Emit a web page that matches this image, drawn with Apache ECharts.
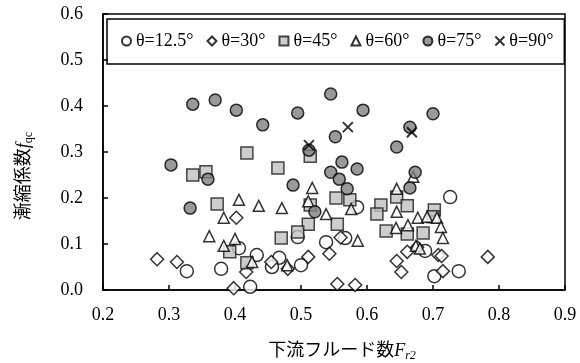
<!DOCTYPE html>
<html>
<head>
<meta charset="utf-8">
<script src="https://cdn.jsdelivr.net/npm/echarts@6/dist/echarts.min.js"></script>
<style>
  html, body { margin: 0; padding: 0; background: #fff; }
  #chart { width: 580px; height: 363px; }
</style>
</head>
<body>
<div id="chart"></div>
<script>
// [Fr2, fqc]
const legendNames = ["θ=12.5°", "θ=30°", "θ=45°", "θ=60°", "θ=75°", "θ=90°"];

const theta125 = [
  [0.327, 0.041], [0.379, 0.046], [0.406, 0.091], [0.433, 0.076], [0.423, 0.007],
  [0.467, 0.070], [0.456, 0.050], [0.500, 0.054], [0.495, 0.115], [0.538, 0.104],
  [0.567, 0.113], [0.585, 0.180], [0.726, 0.202], [0.688, 0.085], [0.702, 0.030],
  [0.739, 0.041]
];
const theta30 = [
  [0.282, 0.067], [0.312, 0.061], [0.402, 0.157], [0.398, 0.004], [0.417, 0.039],
  [0.455, 0.061], [0.480, 0.046], [0.511, 0.072], [0.543, 0.079], [0.560, 0.114],
  [0.555, 0.013], [0.582, 0.011], [0.645, 0.063], [0.652, 0.039], [0.661, 0.083],
  [0.676, 0.093], [0.708, 0.076], [0.713, 0.074], [0.715, 0.041], [0.783, 0.072]
];
const theta45 = [
  [0.418, 0.298], [0.336, 0.250], [0.356, 0.257], [0.465, 0.265], [0.514, 0.291],
  [0.373, 0.187], [0.514, 0.185], [0.511, 0.143], [0.495, 0.126], [0.470, 0.113],
  [0.392, 0.083], [0.418, 0.059], [0.553, 0.200], [0.574, 0.196], [0.555, 0.143],
  [0.621, 0.185], [0.615, 0.165], [0.645, 0.202], [0.661, 0.183], [0.629, 0.128],
  [0.661, 0.122], [0.685, 0.124], [0.702, 0.174], [0.700, 0.159]
];
const theta60 = [
  [0.517, 0.222], [0.406, 0.196], [0.436, 0.183], [0.471, 0.178], [0.383, 0.157],
  [0.511, 0.193], [0.361, 0.117], [0.400, 0.111], [0.383, 0.096], [0.426, 0.061],
  [0.479, 0.054], [0.538, 0.165], [0.576, 0.176], [0.586, 0.107], [0.645, 0.220],
  [0.645, 0.170], [0.644, 0.135], [0.662, 0.141], [0.677, 0.157], [0.691, 0.159],
  [0.706, 0.157], [0.712, 0.137], [0.715, 0.113], [0.674, 0.096], [0.680, 0.090],
  [0.670, 0.246]
];
const theta75 = [
  [0.336, 0.404], [0.370, 0.413], [0.402, 0.391], [0.442, 0.359], [0.495, 0.385],
  [0.512, 0.304], [0.303, 0.272], [0.359, 0.241], [0.488, 0.228], [0.332, 0.178],
  [0.545, 0.426], [0.594, 0.391], [0.552, 0.333], [0.665, 0.354], [0.700, 0.383],
  [0.645, 0.311], [0.562, 0.278], [0.585, 0.263], [0.545, 0.256], [0.558, 0.241],
  [0.570, 0.220], [0.673, 0.256], [0.665, 0.222], [0.521, 0.170]
];
const theta90 = [
  [0.512, 0.315], [0.571, 0.354], [0.668, 0.343]
];

const serif = '"Liberation Serif", "Times New Roman", "Noto Sans CJK JP", serif';
const crossPath = "path://M0,0L10,10M10,0L0,10";

const chart = echarts.init(document.getElementById("chart"), null, { renderer: "canvas" });

const option = {
  backgroundColor: "#fff",
  animation: false,
  textStyle: { fontFamily: serif, color: "#000" },
  grid: {
    left: 103,
    right: 15,
    top: 14,
    bottom: 73,
    outerBoundsMode: "none",
    show: true,
    borderColor: "#000",
    borderWidth: 1.5,
  },
  legend: {
    data: legendNames,
    left: 107,
    top: 19,
    padding: [13, 11, 14, 14],
    itemGap: 13,
    itemWidth: 9,
    itemHeight: 9,
    borderColor: "#000",
    borderWidth: 1.5,
    textStyle: { fontFamily: serif, fontSize: 18, color: "#000" },
  },
  xAxis: {
    type: "value",
    min: 0.2,
    max: 0.9,
    interval: 0.1,
    name: "下流フルード数{i|F}{s|r2}",
    nameLocation: "middle",
    nameGap: 50,
    nameTextStyle: {
      fontFamily: serif,
      fontSize: 18,
      color: "#000",
      padding: [0, 0, 0, 16],
      rich: {
        i: { fontFamily: serif, fontSize: 18, fontStyle: "italic", lineHeight: 22 },
        s: { fontFamily: serif, fontSize: 12, fontStyle: "italic", lineHeight: 11, verticalAlign: "bottom" },
      },
    },
    axisLine: { lineStyle: { color: "#000", width: 1.5 } },
    axisTick: { inside: true, length: 5, lineStyle: { color: "#000", width: 1.5 } },
    axisLabel: {
      fontFamily: serif,
      fontSize: 18,
      color: "#000",
      margin: 16,
      formatter: (v) => v.toFixed(1),
    },
    splitLine: { show: false },
  },
  yAxis: {
    type: "value",
    min: 0,
    max: 0.6,
    interval: 0.1,
    name: "漸縮係数{i|f}{s|qc}",
    nameLocation: "middle",
    nameGap: 68,
    nameTextStyle: {
      fontFamily: serif,
      fontSize: 18,
      color: "#000",
      padding: [0, 48, 0, 0],
      rich: {
        i: { fontFamily: serif, fontSize: 18, fontStyle: "italic", lineHeight: 22 },
        s: { fontFamily: serif, fontSize: 12, lineHeight: 11, verticalAlign: "bottom" },
      },
    },
    axisLine: { lineStyle: { color: "#000", width: 1.5 } },
    axisTick: { inside: true, length: 5, lineStyle: { color: "#000", width: 1.5 } },
    axisLabel: {
      fontFamily: serif,
      fontSize: 18,
      color: "#000",
      margin: 20,
      formatter: (v) => v.toFixed(1),
    },
    splitLine: { show: false },
  },
  series: [
    {
      name: legendNames[0],
      type: "scatter",
      data: theta125,
      symbol: "circle",
      symbolSize: 13,
      itemStyle: { color: "#fff", borderColor: "#000", borderWidth: 1.5 },
    },
    {
      name: legendNames[1],
      type: "scatter",
      data: theta30,
      symbol: "diamond",
      symbolSize: 13,
      itemStyle: { color: "#fff", borderColor: "#000", borderWidth: 1.5 },
    },
    {
      name: legendNames[2],
      type: "scatter",
      data: theta45,
      symbol: "rect",
      symbolSize: 12,
      itemStyle: { color: "#c0c0c0", borderColor: "#1a1a1a", borderWidth: 1.5 },
    },
    {
      name: legendNames[3],
      type: "scatter",
      data: theta60,
      symbol: "triangle",
      symbolSize: 11,
      itemStyle: { color: "#fff", borderColor: "#000", borderWidth: 1.5 },
    },
    {
      name: legendNames[4],
      type: "scatter",
      data: theta75,
      symbol: "circle",
      symbolSize: 12,
      itemStyle: { color: "#808080", borderColor: "#000", borderWidth: 1.5 },
    },
    {
      name: legendNames[5],
      type: "scatter",
      data: theta90,
      symbol: crossPath,
      symbolSize: 10,
      itemStyle: { color: "#000", borderColor: "#000", borderWidth: 2 },
    },
  ],
};

chart.setOption(option);
</script>
</body>
</html>
